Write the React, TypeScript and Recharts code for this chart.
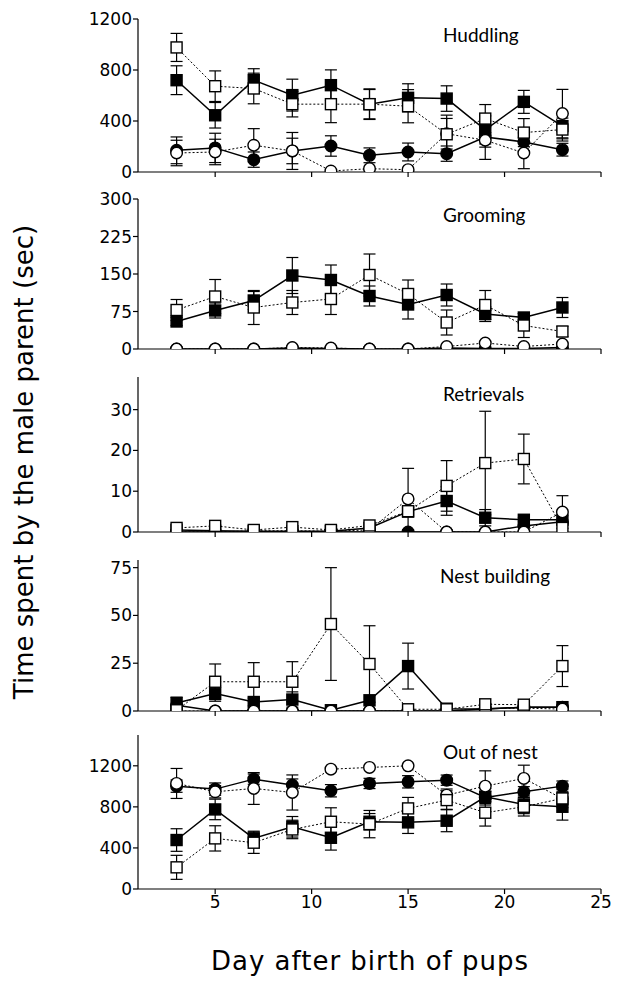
import React from 'react';
import { LineChart, Line, XAxis, YAxis, ErrorBar } from 'recharts';

// Days after birth of pups
const days = [3, 5, 7, 9, 11, 13, 15, 17, 19, 21, 23];
const xTicks = [5, 10, 15, 20, 25];

// Huddling
const hudFilledSq = [720, 445, 720, 603, 681, 532, 582, 576, 330, 550, 360];
const hudFilledSqErr = [113, 100, 90, 125, 120, 115, 110, 100, 110, 90, 100];
const hudOpenSq = [977, 673, 655, 532, 532, 532, 516, 296, 419, 309, 333];
const hudOpenSqErr = [110, 120, 120, 100, 145, 120, 130, 150, 110, 110, 90];
const hudFilledCi = [170, 189, 97, 165, 204, 131, 157, 144, 275, 236, 175];
const hudFilledCiErr = [105, 115, 60, 145, 80, 58, 70, 60, 80, 70, 50];
const hudOpenCi = [149, 157, 210, 165, 8, 26, 18, 300, 249, 149, 458];
const hudOpenCiErr = [100, 100, 130, 100, null, null, null, 120, 150, 123, 190];

// Grooming
const grmFilledSq = [55, 77, 97, 147, 138, 106, 89, 108, 70, 63, 83];
const grmFilledSqErr = [8, 15, 18, 36, 30, 20, 29, 22, 15, 8, 20];
const grmOpenSq = [78, 105, 83, 93, 100, 148, 110, 53, 88, 47, 35];
const grmOpenSqErr = [21, 34, 34, 24, 31, 42, 28, 25, 29, 24, 10];
const grmFilledCi = [0, 0, 0, 2, 1, 0, 0, 2, 1, 1, 3];
const grmFilledCiErr = [null, null, null, null, null, null, null, null, null, null, null];
const grmOpenCi = [0, 0, 0, 3, 2, 0, 0, 5, 12, 5, 10];
const grmOpenCiErr = [null, null, null, null, null, null, null, null, null, null, null];

// Retrievals
const retFilledSq = [0.5, 0.3, 0.2, 0.2, 0.2, 1, 5, 7.6, 3.5, 3, 3];
const retFilledSqErr = [null, null, null, null, null, null, null, 3.5, 2, 0.5, 1];
const retOpenSq = [1, 1.5, 0.5, 1.2, 0.5, 1.6, 5.1, 11.3, 16.9, 17.9, 1];
const retOpenSqErr = [null, null, null, null, null, null, null, 6.2, 12.7, 6.1, null];
const retFilledCi = [0, 0, 0, 0, 0, 0, 0, 0, 0, 1.5, 2.5];
const retFilledCiErr = [null, null, null, null, null, null, null, null, null, null, null];
const retOpenCi = [0, 0, 0.3, 0.3, 0.2, 0.5, 8.1, 0, 0, 0, 4.9];
const retOpenCiErr = [null, null, null, null, null, null, 7.5, null, null, null, 4];

// Nest building
const nstFilledSq = [4.2, 9.1, 4.7, 6, 0.4, 5.6, 23.5, 1.2, 1, 2, 2];
const nstFilledSqErr = [3, 4, 2, 4, null, null, 12, null, null, null, null];
const nstOpenSq = [0.4, 15.3, 15.3, 15.3, 45.5, 24.6, 0.9, 0.9, 3.5, 3.3, 23.5];
const nstOpenSqErr = [null, 9.3, 10, 10.5, 29.5, 20, null, null, null, null, 10.7];
const nstFilledCi = [3, 0, 0, 0, 0, 0, 0, 0, 1, 2, 2];
const nstFilledCiErr = [null, null, null, null, null, null, null, null, null, null, null];
const nstOpenCi = [0, 0, 0, 0, 0, 0, 0, 0, 1.2, 1.5, 1];
const nstOpenCiErr = [null, null, null, null, null, null, null, null, null, null, null];

// Out of nest
const outFilledSq = [477, 775, 493, 606, 499, 655, 649, 665, 898, 824, 801];
const outFilledSqErr = [110, 100, 70, 100, 120, 80, 108, 107, 80, 90, 130];
const outOpenSq = [211, 493, 451, 580, 655, 632, 785, 866, 743, 801, 882];
const outOpenSqErr = [117, 123, 104, 90, 136, 133, 107, 90, 130, 90, 90];
const outFilledCi = [1002, 973, 1070, 1012, 957, 1028, 1044, 1060, 892, 947, 1002];
const outFilledCiErr = [60, 60, 50, 60, 60, 50, 60, 50, 60, 50, 50];
const outOpenCi = [1028, 947, 979, 940, 1167, 1184, 1200, 914, 1002, 1077, 880];
const outOpenCiErr = [146, 60, 155, 171, null, null, null, 60, 149, 129, 60];

// Y ticks
const hudTicks = [0, 400, 800, 1200];
const grmTicks = [0, 75, 150, 225, 300];
const retTicks = [0, 10, 20, 30];
const nstTicks = [0, 25, 50, 75];
const outTicks = [0, 400, 800, 1200];

function buildRows(fs: any[], fsE: any[], os: any[], osE: any[], fc: any[], fcE: any[], oc: any[], ocE: any[]) {
  return days.map((d, i) => ({
    day: d,
    fs: fs[i], fsE: fsE[i],
    os: os[i], osE: osE[i],
    fc: fc[i], fcE: fcE[i],
    oc: oc[i], ocE: ocE[i],
  }));
}

const SquareDot = (fill: string, tag: string) => (props: any) => {
  const { cx, cy, index } = props;
  if (cx == null || cy == null) return <g key={`${tag}${index}`} />;
  return (
    <rect key={`${tag}${index}`} x={cx - 5.5} y={cy - 5.5} width={11} height={11}
      fill={fill} stroke="#000" strokeWidth={1.4} />
  );
};

const CircleDot = (fill: string, tag: string) => (props: any) => {
  const { cx, cy, index } = props;
  if (cx == null || cy == null) return <g key={`${tag}${index}`} />;
  return <circle key={`${tag}${index}`} cx={cx} cy={cy} r={5.8} fill={fill} stroke="#000" strokeWidth={1.4} />;
};

const tickFont = { fontFamily: 'DejaVu Sans', fontSize: 17, fill: '#000' };

type PanelProps = {
  rows: any[];
  top: number;
  plotH: number;
  yMax: number;
  yTicks: number[];
  bottom?: boolean;
};

function Panel({ rows, top, plotH, yMax, yTicks, bottom }: PanelProps) {
  const xH = bottom ? 30 : 14;
  const height = 10 + plotH + xH;
  return (
    <div style={{ position: 'absolute', left: 0, top: top - 10 }}>
      <LineChart width={618} height={height} data={rows}
        margin={{ top: 10, right: 17, left: 88, bottom: 0 }}>
        <XAxis dataKey="day" type="number" domain={[1, 25]} ticks={xTicks}
          allowDataOverflow height={xH} stroke="#000" strokeWidth={1.2}
          tickSize={5} tickMargin={2} tick={tickFont}
          tickFormatter={bottom ? (v: any) => String(v) : () => ''} />
        <YAxis type="number" domain={[0, yMax]} ticks={yTicks} allowDataOverflow
          width={50} stroke="#000" strokeWidth={1.2} tickSize={5} tickMargin={1}
          tick={tickFont} interval={0} />
        <Line dataKey="fc" stroke="#000" strokeWidth={1.5} dot={CircleDot('#000', 'fc')}
          isAnimationActive={false} activeDot={false}>
          <ErrorBar dataKey="fcE" width={6} stroke="#000" strokeWidth={1.2} direction="y" />
        </Line>
        <Line dataKey="fs" stroke="#000" strokeWidth={1.5} dot={SquareDot('#000', 'fs')}
          isAnimationActive={false} activeDot={false}>
          <ErrorBar dataKey="fsE" width={6} stroke="#000" strokeWidth={1.2} direction="y" />
        </Line>
        <Line dataKey="oc" stroke="#000" strokeWidth={1} strokeDasharray="2 2"
          dot={CircleDot('#fff', 'oc')} isAnimationActive={false} activeDot={false}>
          <ErrorBar dataKey="ocE" width={6} stroke="#000" strokeWidth={1.2} direction="y" />
        </Line>
        <Line dataKey="os" stroke="#000" strokeWidth={1} strokeDasharray="2 2"
          dot={SquareDot('#fff', 'os')} isAnimationActive={false} activeDot={false}>
          <ErrorBar dataKey="osE" width={6} stroke="#000" strokeWidth={1.2} direction="y" />
        </Line>
      </LineChart>
    </div>
  );
}

const titleStyle = { fontFamily: 'Lato', fontSize: 19, fill: '#000' } as const;

export default function App() {
  const hud = buildRows(hudFilledSq, hudFilledSqErr, hudOpenSq, hudOpenSqErr, hudFilledCi, hudFilledCiErr, hudOpenCi, hudOpenCiErr);
  const grm = buildRows(grmFilledSq, grmFilledSqErr, grmOpenSq, grmOpenSqErr, grmFilledCi, grmFilledCiErr, grmOpenCi, grmOpenCiErr);
  const ret = buildRows(retFilledSq, retFilledSqErr, retOpenSq, retOpenSqErr, retFilledCi, retFilledCiErr, retOpenCi, retOpenCiErr);
  const nst = buildRows(nstFilledSq, nstFilledSqErr, nstOpenSq, nstOpenSqErr, nstFilledCi, nstFilledCiErr, nstOpenCi, nstOpenCiErr);
  const out = buildRows(outFilledSq, outFilledSqErr, outOpenSq, outOpenSqErr, outFilledCi, outFilledCiErr, outOpenCi, outOpenCiErr);
  return (
    <div style={{ position: 'absolute', left: 0, top: 0, width: 618, height: 981, background: '#fff' }}>
      <Panel rows={hud} top={19} plotH={153} yMax={1200} yTicks={hudTicks} />
      <Panel rows={grm} top={199} plotH={150} yMax={300} yTicks={grmTicks} />
      <Panel rows={ret} top={377} plotH={155} yMax={38} yTicks={retTicks} />
      <Panel rows={nst} top={560} plotH={151} yMax={79} yTicks={nstTicks} />
      <Panel rows={out} top={735} plotH={154} yMax={1500} yTicks={outTicks} bottom />
      <svg width={618} height={981} style={{ position: 'absolute', left: 0, top: 0, pointerEvents: 'none' }}>
        <text x={443} y={42} style={titleStyle}>Huddling</text>
        <text x={443} y={222} style={titleStyle}>Grooming</text>
        <text x={443} y={401} style={titleStyle}>Retrievals</text>
        <text x={440} y={583} style={titleStyle}>Nest building</text>
        <text x={443} y={759} style={titleStyle}>Out of nest</text>
        <text x={370} y={970} textAnchor="middle"
          style={{ fontFamily: 'DejaVu Sans', fontSize: 26, letterSpacing: 1, fill: '#000' }}>
          Day after birth of pups
        </text>
        <text x={33} y={462} textAnchor="middle" transform="rotate(-90 33 462)"
          style={{ fontFamily: 'DejaVu Sans', fontSize: 26, fill: '#000' }}>
          Time spent by the male parent (sec)
        </text>
      </svg>
    </div>
  );
}
